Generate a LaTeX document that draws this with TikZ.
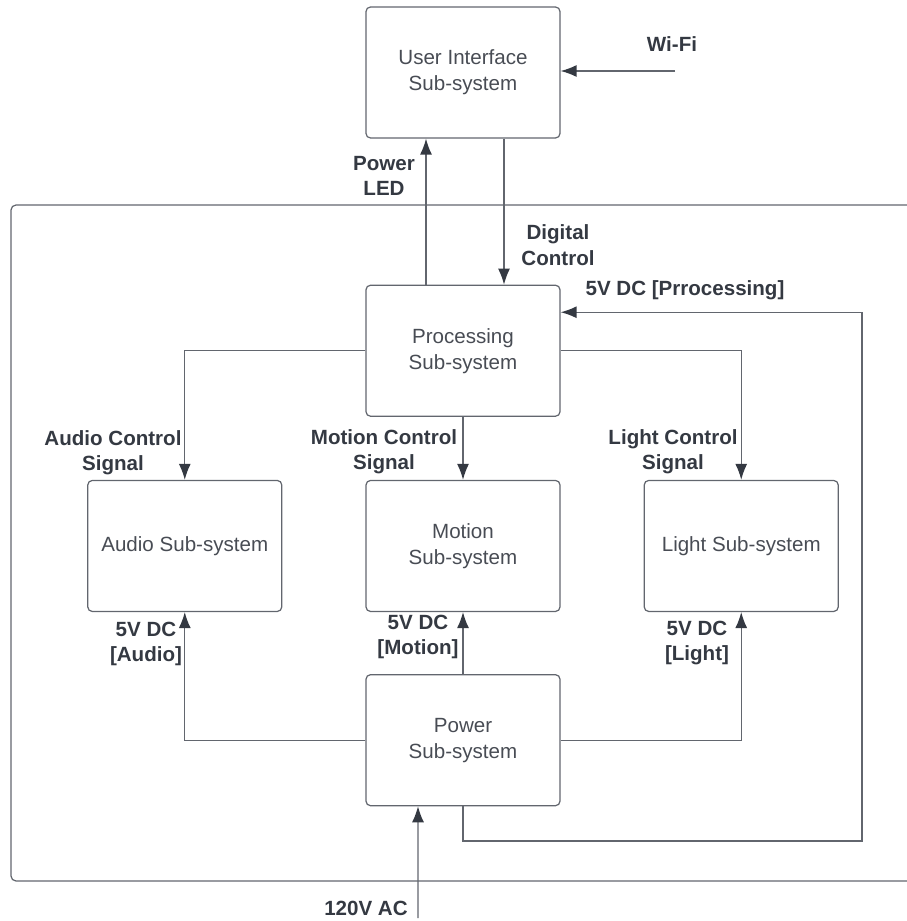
\documentclass[tikz,border=0pt]{standalone}
\usepackage{fontspec}
\setmainfont{Liberation Sans}
\usepackage{tikz}
\usetikzlibrary{positioning,arrows.meta}
\definecolor{linegray}{RGB}{98,102,110}
\definecolor{boxtext}{RGB}{72,76,84}
\definecolor{labtext}{RGB}{52,57,66}
\tikzset{>={Latex[length=3.2mm,width=2.4mm,color=labtext]}}
\tikzset{
  subsys/.style={draw=linegray, line width=0.7pt, rounded corners=0.9mm, minimum width=3.88cm,
    minimum height=2.62cm, inner sep=0pt, align=center, text=boxtext,
    font=\fontsize{11.7}{14.8}\selectfont},
  siglabel/.style={align=center, text=labtext, inner sep=0pt,
    font=\fontsize{11.7}{14.4}\selectfont\bfseries},
  wire/.style={draw=linegray, line width=0.75pt}
}

\begin{document}
\begin{tikzpicture}
          \useasboundingbox (0,0) rectangle (18.12,-18.42);
          \node[subsys] (ui) at (9.26,-1.45) {User Interface\\Sub-system};
          \node[subsys, below=2.92cm of ui] (proc) {Processing\\Sub-system};
          \node[subsys, below=1.26cm of proc] (motion) {Motion\\Sub-system};
          \node[subsys, left=1.66cm of motion] (audio) {Audio Sub-system};
          \node[subsys, right=1.66cm of motion] (light) {Light Sub-system};
          \node[subsys, below=1.24cm of motion] (pwr) {Power\\Sub-system};

          \coordinate (wifi) at (13.5,-1.42);
          \coordinate (acin) at (8.36,-18.36);
          \coordinate (loopbr) at (17.24,-16.82);

          % enclosure (right side runs off the page)
          \draw[linegray, line width=0.7pt, rounded corners=1mm]
            (18.2,-4.1) -- (0.22,-4.1) -- (0.22,-17.62) -- (18.2,-17.62);

          \draw[wire,->] (wifi) -- (ui.east |- wifi);
          \draw[wire,->] ([xshift=-7.4mm]proc.north) -- ([xshift=-7.4mm]ui.south);
          \draw[wire,->] ([xshift=8.2mm]ui.south) -- ([xshift=8.2mm]proc.north);
          \draw[wire,->] (proc.west) -| (audio.north);
          \draw[wire,->] (proc.south) -- (motion.north);
          \draw[wire,->] (proc.east) -| (light.north);
          \draw[wire,->] (pwr.west) -| (audio.south);
          \draw[wire,->] (pwr.north) -- (motion.south);
          \draw[wire,->] (pwr.east) -| (light.south);
          \draw[wire,->] (pwr.south) |- (loopbr) |- ([yshift=7.7mm]proc.east);
          \draw[wire,->] (acin) -- ([xshift=-9mm]pwr.south);

          \node[siglabel] (lwifi) at (13.44,-0.88) {Wi-Fi};
          \node[siglabel] (lled) at (7.68,-3.52) {Power\\LED};
          \node[siglabel] (ldig) at (11.16,-4.9) {Digital\\Control};
          \node[siglabel] (lpproc) at (13.7,-5.8) {5V DC [Prrocessing]};
          \node[siglabel] (laudio) at (2.26,-9.06) {Audio Control\\Signal};
          \node[siglabel] (lmotion) at (7.68,-9.04) {Motion Control\\Signal};
          \node[siglabel] (llight) at (13.46,-9.04) {Light Control\\Signal};
          \node[siglabel] (lpaudio) at (2.92,-12.88) {5V DC\\{[Audio]}};
          \node[siglabel] (lpmotion) at (8.36,-12.74) {5V DC\\{[Motion]}};
          \node[siglabel] (lplight) at (13.94,-12.86) {5V DC\\{[Light]}};
          \node[siglabel] (lac) at (7.32,-18.16) {120V AC};
        \end{tikzpicture}
\end{document}
